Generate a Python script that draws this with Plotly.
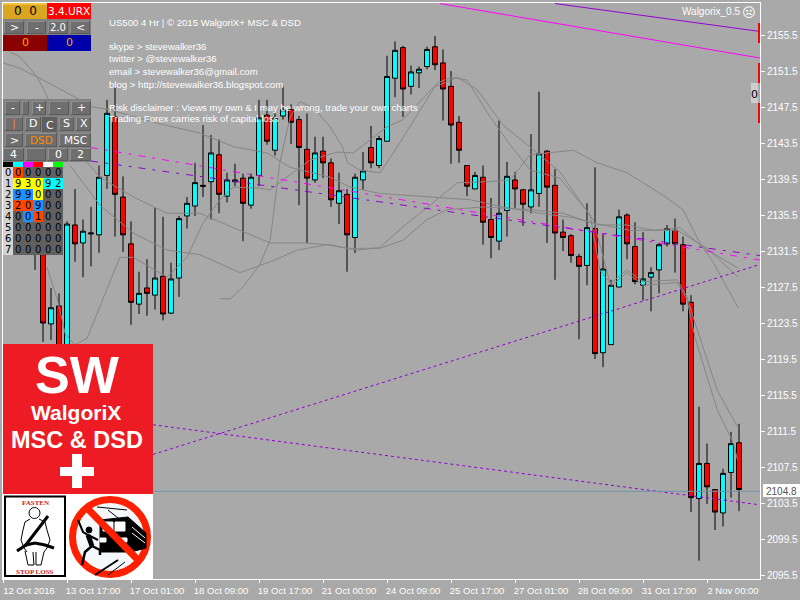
import plotly.graph_objects as go

first_bar = 4
opens = [2132.7,2131.1,2123.4,2125.4,2118.8,2134.4,2132.4,2133.4,2133.3,2139.9,2146.4,2137.5,2132.3,2125.6,2127.4,2126.6,2128.7,2124.6,2128.5,2135.4,2136.5,2138.8,2139.2,2142.2,2137.6,2139.2,2139.6,2136.6,2139.9,2146.6,2142.7,2146.5,2147.2,2146.1,2142.8,2139.4,2142.6,2141.3,2136.8,2137.8,2133.0,2139.4,2143.0,2141.0,2143.7,2150.7,2154.1,2149.8,2151.3,2152.0,2154.2,2152.4,2149.8,2145.8,2141.0,2138.4,2139.7,2135.0,2132.6,2136.0,2139.4,2138.3,2136.4,2137.9,2142.6,2138.8,2133.6,2133.2,2130.9,2129.9,2134.0,2120.2,2121.1,2127.5,2135.5,2132.0,2127.7,2128.6,2129.4,2132.3,2133.8,2132.2,2125.8,2104.0,2107.9,2105.0,2102.4,2106.9,2110.2]
highs = [2137.2,2131.6,2127.4,2126.8,2134.8,2138.4,2135.0,2136.4,2141.0,2148.3,2149.7,2139.8,2134.8,2129.2,2130.6,2136.3,2135.3,2130.2,2135.4,2137.5,2141.3,2145.5,2144.4,2143.9,2140.2,2141.2,2140.1,2140.1,2148.3,2148.3,2146.8,2149.8,2147.8,2146.5,2146.8,2144.2,2144.2,2141.8,2140.2,2138.4,2140.1,2142.5,2145.4,2144.3,2153.2,2154.8,2154.3,2152.1,2152.0,2154.2,2155.4,2153.9,2151.5,2146.5,2141.0,2140.3,2141.0,2137.4,2146.0,2141.4,2140.3,2138.4,2144.5,2149.2,2142.7,2140.6,2135.0,2133.4,2131.2,2136.8,2140.8,2133.5,2128.3,2136.1,2135.7,2134.7,2133.6,2129.7,2132.4,2134.4,2135.1,2133.1,2126.6,2114.2,2110.1,2105.0,2107.3,2111.4,2112.3]
lows = [2129.4,2121.4,2121.6,2118.8,2118.3,2130.3,2128.6,2129.8,2131.3,2138.4,2133.1,2131.4,2123.3,2124.5,2124.3,2125.0,2123.8,2124.5,2126.4,2134.0,2135.4,2137.5,2135.0,2135.7,2136.9,2138.7,2132.6,2136.2,2138.7,2143.3,2142.1,2146.1,2143.4,2136.6,2132.4,2139.1,2139.6,2136.4,2134.5,2129.2,2131.3,2138.3,2140.7,2140.7,2143.7,2148.6,2146.4,2148.9,2149.6,2151.7,2151.6,2146.0,2141.2,2141.3,2137.6,2138.4,2132.2,2130.7,2131.6,2133.1,2136.3,2134.3,2135.7,2136.4,2132.4,2128.3,2131.5,2130.2,2121.7,2127.7,2119.5,2118.6,2121.1,2127.5,2130.6,2127.8,2126.0,2124.8,2126.8,2132.0,2129.1,2124.8,2102.5,2097.1,2103.4,2100.5,2100.9,2104.1,2102.6]
closes = [2134.4,2123.5,2125.2,2120.3,2134.5,2132.3,2133.7,2133.5,2139.7,2146.8,2137.8,2133.3,2125.8,2126.8,2126.8,2128.5,2124.5,2128.4,2135.1,2136.8,2139.1,2138.7,2142.4,2137.8,2139.4,2139.4,2136.8,2139.7,2146.3,2143.7,2146.3,2147.2,2145.8,2143.0,2139.6,2142.4,2141.3,2137.2,2138.2,2133.3,2139.7,2140.4,2141.3,2144.0,2150.9,2153.8,2149.5,2151.4,2151.7,2153.9,2152.2,2149.5,2145.5,2142.7,2138.7,2139.9,2134.7,2133.0,2135.7,2139.8,2138.4,2136.7,2138.3,2142.3,2138.6,2133.5,2133.0,2131.0,2129.8,2134.1,2120.1,2129.5,2127.7,2135.3,2132.3,2128.1,2128.4,2129.1,2132.2,2134.0,2132.3,2125.6,2104.1,2107.9,2105.3,2102.5,2106.8,2110.1,2105.0]
bars = list(range(first_bar, first_bar + len(opens)))

band1_x = [0,2.1,4.6,11.3,13.4,19.3,24.6,28.8,33,35.9,40.9,43.4,47.1,54.3,58.4,62.5,67.1,71.3,73.8,78.4,84.3,88,91.9]
band1_y = [2152.4,2151.8,2150.7,2147.5,2147.2,2145.7,2144.6,2143.1,2142.4,2140.8,2139.7,2138.6,2137.9,2137.5,2137.2,2136.4,2135.7,2135.2,2134.6,2133.8,2133.8,2131.8,2128.6]
band2_x = [.9,2.1,4.3,5.3,7.1,10,12.1,16.3,20.5,24.6,28.8,33.4,37.5,40.9,43,47.1,50,53,55.5,60,65.9,70,74.3,78,81.3,84.6,87.5,91.9]
band2_y = [2153.6,2153.1,2150.8,2149.1,2145.5,2141.9,2139.7,2137.5,2135.7,2135.7,2134.1,2132.4,2132.4,2132.2,2131.8,2131.8,2132.7,2135.0,2136.1,2136.4,2136.1,2135.7,2134.4,2134.4,2133.8,2134.1,2131.9,2129.6]
band3_x = [8.4,12.1,16.3,20.5,24.6,29.6,33.4,36.8,40.5,44.3,47.1,50,53,56.8,60.5,63.4,65.9,68.4,71.3,74.3,78,82.5,85,87.1,88.8,91.9]
band3_y = [2141.0,2136.6,2133.5,2131.6,2131.1,2129.1,2130.3,2131.6,2132.2,2131.6,2131.9,2134.2,2136.3,2139.1,2139.2,2139.4,2142.2,2142.4,2142.7,2141.3,2140.2,2137.7,2136.1,2132.4,2130.2,2125.2]
band4_x = [5.5,6.8,7.8,9,10.5,12.1,14.6,16.3,20.5,23,25,27.1,28.8,31.8,33.4,35.9,38.4,41.8,43.8,48,50,53.8,56.8,59.3,62.5,66.8,69.6,73.8,75.9,78,80,84.3,85.5,86.5,89.3,91.8]
band4_y = [2129.7,2126.1,2122.2,2121.1,2121.8,2125.3,2130.8,2130.8,2128.6,2130.8,2134.6,2137.2,2138.6,2138.5,2138.3,2140.0,2141.6,2142.5,2142.4,2145.3,2146.1,2149.7,2150.8,2149.4,2145.5,2142.4,2140.3,2134.9,2127.9,2129.4,2128.1,2128.3,2126.4,2123.5,2116.0,2112.0]
band5_x = [27.1,28.4,30,32.1,33.4,34.6,35.9,37.1,38.8,40.9,42.4,43.1,44.6,47.1,48.8,54.3,56.1,58,60.9,63.4,65.9,69.6,73.4,74.6,76.1,78,80,84.3,85.5,86.5,88.4,89.3,91.3,91.8]
band5_y = [2126.2,2126.2,2127.5,2130.0,2132.7,2141.3,2146.4,2148.1,2147.4,2145.3,2143.1,2141.3,2140.5,2140.2,2142.4,2150.2,2150.8,2150.5,2146.4,2143.3,2140.5,2139.6,2135.5,2129.4,2127.7,2129.1,2127.7,2128.0,2126.1,2121.9,2116.4,2113.8,2110.2,2108.3]

purple_top_x, purple_top_y = [69, 94.6], [2159.0, 2155.9]
magenta_top_x, magenta_top_y = [54.6, 94.6], [2159.0, 2152.95]
magenta_mid_x, magenta_mid_y = [11, 94.6], [2143.0, 2130.5]
purple_mid_x, purple_mid_y = [11, 94.6], [2141.5, 2131.0]
rising_x, rising_y = [18.75, 94.6], [2108.9, 2130.0]
falling_x, falling_y = [18.75, 94.6], [2112.2, 2103.3]
last_price = 2104.8

x_tickvals = [0,8,16,24,32,40,48,56,64,72,80,88]
x_ticktext = ["12 Oct 2016","13 Oct 17:00","17 Oct 01:00","18 Oct 09:00","19 Oct 17:00","21 Oct 00:00","24 Oct 09:00","25 Oct 17:00","27 Oct 01:00","28 Oct 09:00","31 Oct 17:00","2 Nov 00:00"]
y_ticks = [2095.5,2099.5,2103.5,2107.5,2111.5,2115.5,2119.5,2123.5,2127.5,2131.5,2135.5,2139.5,2143.5,2147.5,2151.5,2155.5]

BG = "#A9A9A9"
UI = "DejaVu Sans"
TICK = "Liberation Sans"

fig = go.Figure()
for xs, ys in [(band1_x,band1_y),(band2_x,band2_y),(band3_x,band3_y),(band4_x,band4_y),(band5_x,band5_y)]:
    fig.add_trace(go.Scatter(x=xs, y=ys, mode="lines", line=dict(color="#868686", width=1), hoverinfo="skip", showlegend=False))
for xs, ys, col, dash in [
    (purple_top_x,purple_top_y,"#9400D3","solid"),
    (magenta_top_x,magenta_top_y,"#FF00FF","solid"),
    (magenta_mid_x,magenta_mid_y,"#FF00FF","7px,7px,3px,7px"),
    (purple_mid_x,purple_mid_y,"#9400D3","7px,7px,3px,7px"),
    (rising_x,rising_y,"#9400D3","3px,3px"),
    (falling_x,falling_y,"#9400D3","3px,3px"),
]:
    fig.add_trace(go.Scatter(x=xs, y=ys, mode="lines", line=dict(color=col, width=1, dash=dash), hoverinfo="skip", showlegend=False))
fig.add_trace(go.Scatter(x=[0, 94.6], y=[last_price, last_price], mode="lines", line=dict(color="#6F93AB", width=1), hoverinfo="skip", showlegend=False))
fig.add_trace(go.Candlestick(x=bars, open=opens, high=highs, low=lows, close=closes, whiskerwidth=0,
    increasing=dict(fillcolor="#00FFFF", line=dict(color="#000000", width=1)),
    decreasing=dict(fillcolor="#FF0000", line=dict(color="#000000", width=1)),
    hoverinfo="skip", showlegend=False))

def fx(x): return (x-3)/757
def fy(y): return (579-y)/576
shapes, notes = [], []
def rect(x0,y0,x1,y1,fill):
    shapes.append(dict(type="rect", xref="paper", yref="paper", x0=fx(x0), x1=fx(x1), y0=fy(y0), y1=fy(y1), fillcolor=fill, line=dict(width=0), layer="above"))
def txt(x,y,s,size=10,color="white",anchor="center",family=UI,bold=False):
    if bold: s = "<b>"+s+"</b>"
    notes.append(dict(xref="paper", yref="paper", x=fx(x), y=fy(y), text=s, showarrow=False, xanchor=anchor, yanchor="middle", borderpad=0, font=dict(size=size,color=color,family=family)))
def path(points, close=False, fill=None, color="black", width=1):
    d = "M " + " L ".join(f"{fx(a):.5f},{fy(b):.5f}" for a,b in points) + (" Z" if close else "")
    shapes.append(dict(type="path", xref="paper", yref="paper", path=d, fillcolor=fill if fill else "rgba(0,0,0,0)", line=dict(color=color,width=width), layer="above"))
def circle(cx,cy,r,fill=None,color="black",width=1):
    shapes.append(dict(type="circle", xref="paper", yref="paper", x0=fx(cx-r), x1=fx(cx+r), y0=fy(cy+r), y1=fy(cy-r), fillcolor=fill if fill else "rgba(0,0,0,0)", line=dict(color=color,width=width), layer="above"))
def button(x0,y0,x1,y1,label="",color="white",size=11,face="#6E6E6E",family=UI):
    rect(x0,y0,x1,y1,"#5A5A5A")
    rect(x0,y0,x1-1,y1-1,"#8E8E8E")
    rect(x0+1,y0+1,x1-1,y1-1,face)
    if label: txt((x0+x1)/2,(y0+y1)/2,label,size,color,family=family)

# top panel
rect(3,3,47,19,"#DAA520"); rect(3,3,47,5,"#F0C040")
rect(47,3,91,19,"#FF0000")
txt(25,11.5,"0  0",12,"black"); txt(69,11.5,"3.4.URX",10.5,"white")
rect(3,19,91,35,"#808080")
button(4,21,24,34,">"); button(27,21,46,34,"-"); button(48,21,68,34,"2.0",size=10); button(70,21,90,34,"<")
rect(3,35,47,51,"#8B0000"); rect(47,35,91,51,"#0000AA")
txt(25,43,"0",11,"#FFA500"); txt(69,43,"0",11,"#FFA500")
# second panel
rect(3,99,91,162,"#808080")
button(5,101,20,115,"-"); button(22,101,29,115); button(32,101,46,115,"+"); button(49,101,69,115,"-"); button(71,101,91,115,"+")
button(5,117,23,131,"|",color="#FF8C00"); button(25,117,41,131,"D"); rect(42,117,57,132,"#5F5F5F"); txt(49.5,125,"C",11,"white")
button(59,117,74,131,"S"); button(76,117,91,131,"X")
button(5,133,23,147,">"); button(25,133,57,147,"DSD",color="#FF8C00",size=10.5); button(59,133,91,147,"MSC",size=10.5)
button(3,148,24,161,"4",size=11); button(26,148,46,161); button(48,148,68,161,"0",size=11); button(70,148,91,161,"2",size=11)
# table
header = ["#000000","#00FFFF","#FF00FF","#FF0000","#FFFFFF","#00FF00"]
for i,c in enumerate(header): rect(3+10*i,162,13+10*i,167,c)
table = [[0,0,0,0,0],[9,3,0,9,2],[9,9,0,0,0],[2,0,9,0,0],[0,0,1,0,0],[0,0,0,0,0],[0,0,0,0,0],[0,0,0,0,0]]
row_cols = {
 0:["#FF4500","#606060","#606060","#606060","#606060"],
 1:["#FFFF00","#FFFF00","#FFFF00","#00FFFF","#00FFFF"],
 2:["#1E90FF","#1E90FF","#FFFF00","#606060","#606060"],
 3:["#FF4500","#FF4500","#1E90FF","#606060","#606060"],
 4:["#606060","#1E90FF","#FF4500","#606060","#606060"],
}
for r,row in enumerate(table):
    y0 = 167+11*r
    rect(3,y0,13,y0+11,"#D3D3D3")
    txt(8,y0+5.5,str(r),10,"black")
    cols = row_cols.get(r,["#606060"]*5)
    for c,v in enumerate(row):
        rect(13+10*c,y0,23+10*c,y0+11,cols[c])
        txt(18+10*c,y0+5.5,str(v),10,"black")

# logo
rect(3,344,153,494,"#ED1C24")
txt(77,375,"SW",52,"white",family="Liberation Sans",bold=True)
txt(76,412,"WalgoriX",21,"white",family="Liberation Sans",bold=True)
txt(77,440,"MSC &amp; DSD",23.5,"white",family="Liberation Sans",bold=True)
rect(60,467,94,476,"white"); rect(72,454,82,488,"white")
rect(3,494,153,579,"white")
# seat belt sign
shapes.append(dict(type="rect", xref="paper", yref="paper", x0=fx(5), x1=fx(65), y0=fy(576), y1=fy(496.5), fillcolor="white", line=dict(color="black",width=2), layer="above"))
txt(35.5,503,"FASTEN",7,"#C8202A",family="Liberation Serif",bold=True)
txt(35,572,"STOP LOSS",7,"#C8202A",family="Liberation Serif",bold=True)
circle(34.5,513,5.5,color="black",width=1)
path([(30,519),(25,522),(23,530),(21,540),(24,548),(27,552)],width=1)
path([(39,519),(45,522),(47,530),(50,540),(47,548),(44,552)],width=1)
path([(25,551),(28,565),(34,565),(33,552)],width=1)
path([(44,552),(41,565),(36,565),(36,552)],width=1)
path([(48,516),(25,546)],width=3)
path([(17,551),(26,545),(35,543),(45,545),(54,548)],width=3)
# no-train sign
circle(110,537,37.5,fill="#F4F8FA",color="#FF2000",width=7)
path([(100,520),(128,517),(131,552),(100,552)],close=True,fill="black")
path([(128,517),(146,533),(146,548),(131,552)],close=True,fill="black")
path([(103,522),(113,522),(113,531),(103,531)],close=True,fill="white",color="white")
path([(115,522),(125,522),(125,531),(115,531)],close=True,fill="white",color="white")
path([(132,527),(145,538)],color="white"); path([(132,533),(145,543)],color="white")
path([(100,538),(106,538),(106,542),(100,542)],close=True,fill="white",color="white")
path([(120,538),(127,538),(127,542),(120,542)],close=True,fill="white",color="white")
path([(97,507),(127,510)],width=1); path([(108,510),(118,518)],width=1)
path([(95,575),(118,560)],width=2); path([(108,575),(125,562)],width=1)
circle(89,530,3,fill="black")
path([(78,520),(83,532),(88,535),(98,540)],width=2)
path([(88,535),(92,546)],width=5)
path([(92,546),(85,552),(82,565)],width=2.5); path([(92,546),(100,550),(100,555)],width=2.5)
path([(87,508),(139,561)],color="#FF2000",width=7)

# right side markers and labels
rect(758,23,760,43,"#FF0000"); rect(758,63,760,83,"#FF0000"); rect(758,103,760,123,"#FF0000")
rect(751,83,758,103,"#CDCDCD"); txt(754.5,94,"0",11,"black")
txt(741,11.5,"Walgorix_0.5",10,"white",anchor="right",family=TICK)
txt(749,12,"☹",13,"white")
rect(763,484,800,497,"white"); txt(781,491,"2104.8",10,"#555555",family=TICK)

# comment text
for y,s in [(23,"US500 4 Hr | © 2015 WalgoriX+ MSC &amp; DSD"),(47,"skype > stevewalker36"),(59,"twitter > @stevewalker36"),(71,"email > stevewalker36@gmail.com"),(84,"blog > http://stevewalker36.blogspot.com"),(107,"Risk disclaimer : Views my own &amp; I may be wrong, trade your own charts"),(119,"Trading Forex carries risk of capital loss")]:
    txt(108,y,s,9.6,"white",anchor="left",family="Liberation Sans")

fig.update_layout(
    width=800, height=600, autosize=False,
    paper_bgcolor=BG, plot_bgcolor=BG, showlegend=False,
    boxgap=0.38, boxgroupgap=0,
    margin=dict(l=3,r=40,t=3,b=21,pad=0,autoexpand=False),
    xaxis=dict(range=[0,94.625], rangeslider=dict(visible=False), showgrid=False, zeroline=False, showline=True, mirror=True,
               linecolor="white", linewidth=1, tickmode="array", tickvals=x_tickvals, ticktext=x_ticktext,
               ticks="outside", tickcolor="white", ticklen=3, tickwidth=1, ticklabelshift=26,
               tickangle=0, tickfont=dict(family=TICK,size=9.5,color="white")),
    yaxis=dict(range=[2095.06,2159.06], side="right", showgrid=False, zeroline=False, showline=True, mirror=True,
               linecolor="white", linewidth=1, tickmode="array", tickvals=y_ticks, tickformat=".1f",
               ticks="outside", tickcolor="white", ticklen=4, tickwidth=1, tickfont=dict(family=TICK,size=10,color="white")),
    shapes=shapes, annotations=notes,
)
fig.write_html("out.html", config=dict(displayModeBar=False), post_script="document.body.style.margin='0';")
